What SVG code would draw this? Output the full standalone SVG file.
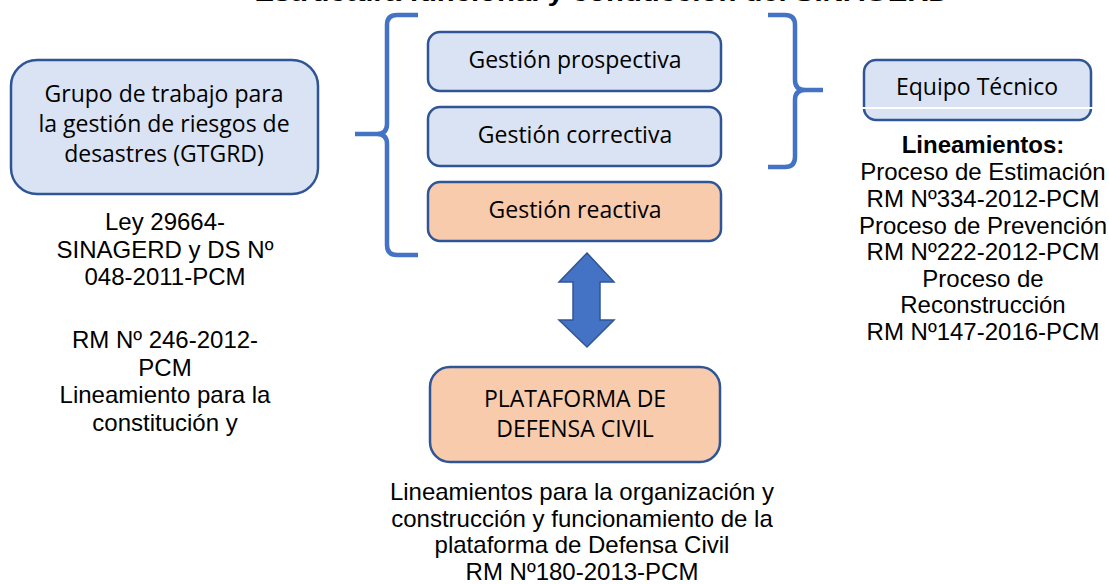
<svg xmlns="http://www.w3.org/2000/svg" width="1109" height="584" viewBox="0 0 1109 584">
<style>
.box{stroke:#2f5597;stroke-width:2.5}
.blue{fill:#dae3f3}
.orange{fill:#f8cbad}
.bt{font-family:"Open Sans","Noto Sans",sans-serif;font-size:23px;fill:#000;text-anchor:middle}
.at{font-family:"Liberation Sans",Arial,sans-serif;font-size:24px;fill:#000;text-anchor:middle}
.brace{fill:none;stroke:#4472c4;stroke-width:4.5}
</style>
<rect width="1109" height="584" fill="#fff"/>
<text x="602" y="1" font-family="Liberation Sans,Arial,sans-serif" font-size="24" font-weight="bold" text-anchor="middle" textLength="695" lengthAdjust="spacingAndGlyphs">Estructura funcional y conducción del SINAGERD</text>
<g id="connectors">
<path class="brace" d="M418,15 H397 Q387,15 387,25 V124 Q387,134 377,134 H355 M377,134 Q387,134 387,144 V245 Q387,255 397,255 H418"/>
<path class="brace" d="M768,15 H785 Q795,15 795,25 V80 Q795,90 805,90 H823 M805,90 Q795,90 795,100 V157 Q795,167 785,167 H768"/>
<polygon points="587,253 614,282 600,282 600,320 614,320 587,347 559,320 573,320 573,282 559,282" fill="#4472c4" stroke="#2f5597" stroke-width="1.5"/>
</g>
<g id="gtgrd">
<rect class="box blue" x="11" y="60" width="307" height="134" rx="26"/>
<text class="bt" x="164" y="102">Grupo de trabajo para</text>
<text class="bt" x="164" y="132">la gestión de riesgos de</text>
<text class="bt" x="164" y="162">desastres (GTGRD)</text>
</g>
<g id="gtgrd-text">
<text class="at" x="165" y="230">Ley 29664-</text>
<text class="at" x="165" y="258">SINAGERD y DS Nº</text>
<text class="at" x="165" y="285">048-2011-PCM</text>
<text class="at" x="165" y="348">RM Nº 246-2012-</text>
<text class="at" x="165" y="376">PCM</text>
<text class="at" x="165" y="403">Lineamiento para la</text>
<text class="at" x="165" y="431">constitución y</text>
</g>
<g id="prospectiva">
<rect class="box blue" x="428" y="32" width="293" height="59" rx="12"/>
<text class="bt" x="575" y="68">Gestión prospectiva</text>
</g>
<g id="correctiva">
<rect class="box blue" x="428" y="107" width="293" height="59" rx="12"/>
<text class="bt" x="575" y="143">Gestión correctiva</text>
</g>
<g id="reactiva">
<rect class="box orange" x="428" y="182" width="293" height="59" rx="12"/>
<text class="bt" x="575" y="218">Gestión reactiva</text>
</g>
<g id="equipo">
<rect class="box blue" x="864" y="60" width="227" height="60" rx="12"/>
<line x1="862" y1="108" x2="1093" y2="108" stroke="#fff" stroke-width="2"/>
<text class="bt" x="977" y="95">Equipo Técnico</text>
</g>
<g id="equipo-text">
<text class="at" x="983" y="153" font-weight="bold">Lineamientos:</text>
<text class="at" x="983" y="180">Proceso de Estimación</text>
<text class="at" x="983" y="207">RM Nº334-2012-PCM</text>
<text class="at" x="983" y="234">Proceso de Prevención</text>
<text class="at" x="983" y="260">RM Nº222-2012-PCM</text>
<text class="at" x="983" y="287">Proceso de</text>
<text class="at" x="983" y="313">Reconstrucción</text>
<text class="at" x="983" y="340">RM Nº147-2016-PCM</text>
</g>
<g id="plataforma">
<rect class="box orange" x="430" y="367" width="290" height="95" rx="20"/>
<text class="bt" x="575" y="407">PLATAFORMA DE</text>
<text class="bt" x="575" y="437">DEFENSA CIVIL</text>
</g>
<g id="plataforma-text">
<text class="at" x="582" y="500">Lineamientos para la organización y</text>
<text class="at" x="582" y="527">construcción y funcionamiento de la</text>
<text class="at" x="582" y="553">plataforma de Defensa Civil</text>
<text class="at" x="582" y="580">RM Nº180-2013-PCM</text>
</g>
</svg>
